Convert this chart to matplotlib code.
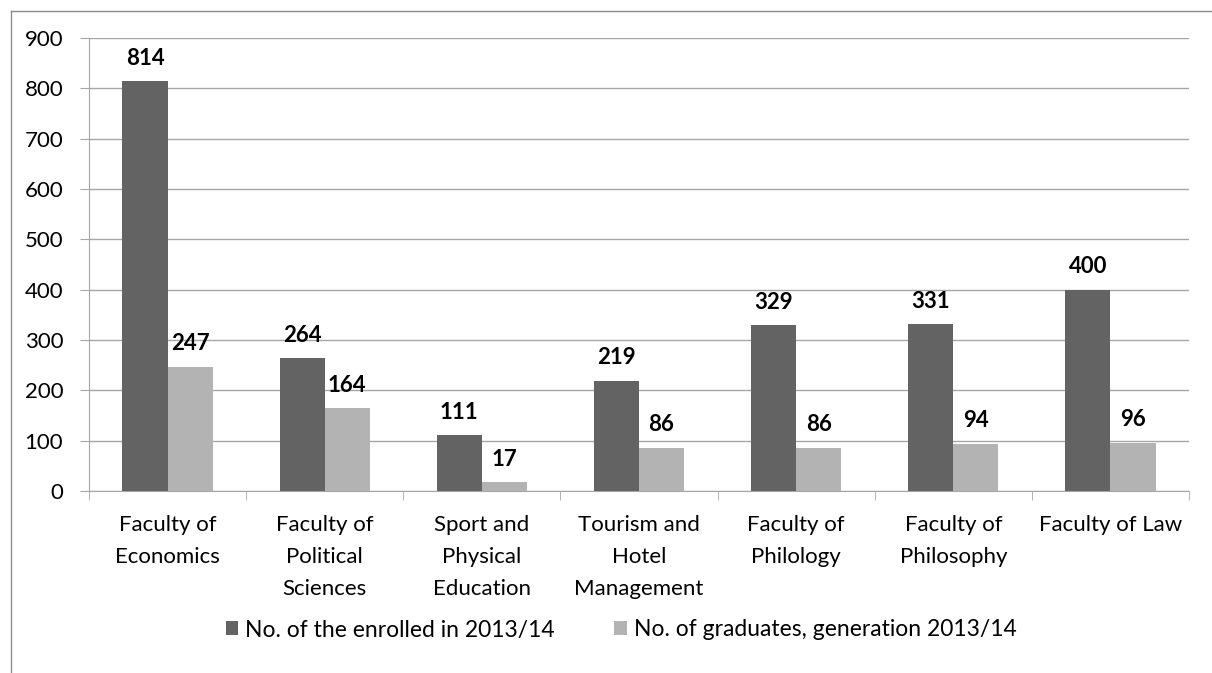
import matplotlib.pyplot as plt
import matplotlib as mpl
import numpy as np

mpl.rcParams.update({
    "font.family": ["Lato", "DejaVu Sans"],
    "font.size": 16,
})

# data
categories = ["Faculty of\nEconomics", "Faculty of\nPolitical\nSciences",
              "Sport and\nPhysical\nEducation", "Tourism and\nHotel\nManagement",
              "Faculty of\nPhilology", "Faculty of\nPhilosophy", "Faculty of Law"]
enrolled = [814, 264, 111, 219, 329, 331, 400]
graduates = [247, 164, 17, 86, 86, 94, 96]
series_names = ["No. of the enrolled in 2013/14", "No. of graduates, generation 2013/14"]
yticks = [0, 100, 200, 300, 400, 500, 600, 700, 800, 900]

dark = "#636363"
light = "#b3b3b3"
gridc = "#a6a6a6"

W, H = 1212, 673
fig = plt.figure(figsize=(W / 100, H / 100), dpi=100)
ax = fig.add_axes([89 / W, 1 - 491 / H, (1189 - 89) / W, (491 - 38) / H])

# outer frame (left and top only visible)
fig.add_artist(plt.Line2D([11 / W, 11 / W], [0, 1 - 11 / H], transform=fig.transFigure,
                          color="#8c8c8c", lw=1))
fig.add_artist(plt.Line2D([11 / W, 1], [1 - 11 / H, 1 - 11 / H], transform=fig.transFigure,
                          color="#8c8c8c", lw=1))

x = np.arange(len(categories))
bw = 0.287
b1 = ax.bar(x - bw / 2, enrolled, bw, color=dark, label=series_names[0], zorder=3)
b2 = ax.bar(x + bw / 2, graduates, bw, color=light, label=series_names[1], zorder=3)

for bars in (b1, b2):
    for r in bars:
        ax.annotate(f"{int(r.get_height())}", (r.get_x() + r.get_width() / 2, r.get_height()),
                    xytext=(0, 9), textcoords="offset points", ha="center", va="bottom",
                    fontsize=16, fontweight="bold", color="black")

ax.set_xlim(-0.5, len(categories) - 0.5)
ax.set_ylim(0, 900)
ax.set_yticks(yticks)
ax.grid(axis="y", color=gridc, lw=1, zorder=0)
ax.set_axisbelow(True)

for s in ["top", "right"]:
    ax.spines[s].set_visible(False)
ax.spines["left"].set_color(gridc)
ax.spines["bottom"].set_color(gridc)

ax.set_xticks(np.arange(len(categories) + 1) - 0.5, minor=True)
ax.set_xticks(x)
ax.set_xticklabels(categories, fontsize=16, linespacing=1.75, va="top")
ax.tick_params(axis="x", which="major", length=0, pad=17.5)
ax.tick_params(axis="x", which="minor", length=6.5, color=gridc)
ax.tick_params(axis="y", length=6.5, color=gridc, pad=12, labelsize=16)

ax.legend(loc="center", bbox_to_anchor=((621 - 89) / 1100, (1 - 630 / H - (1 - 491 / H)) / ((491 - 38) / H)),
          ncol=2, frameon=False, fontsize=16.5, handlelength=0.55, handleheight=0.55,
          handletextpad=0.3, columnspacing=2.6)

fig.savefig("out.png", dpi=100)
